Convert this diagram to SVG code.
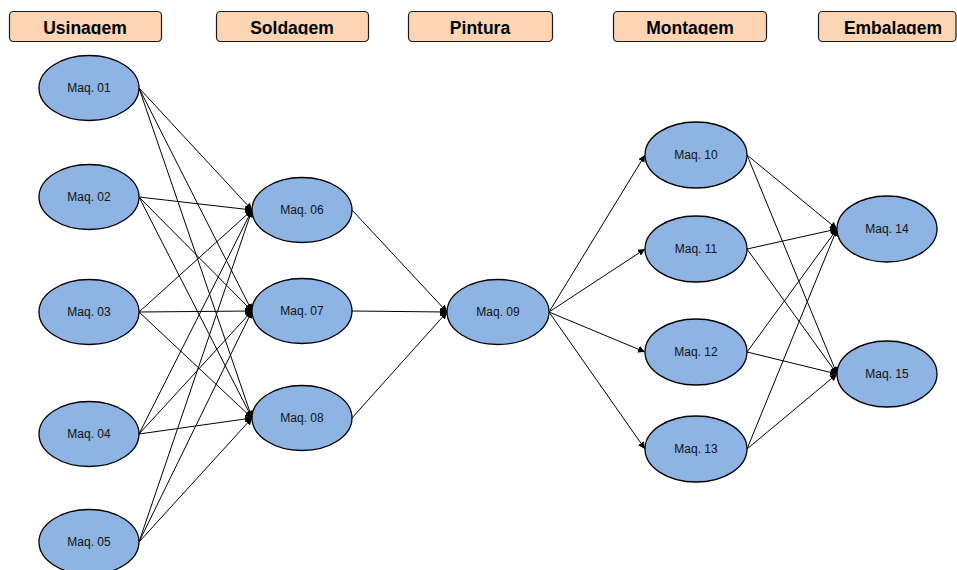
<svg xmlns="http://www.w3.org/2000/svg" width="957" height="570" viewBox="0 0 957 570">
  <style>
    .stage rect { fill: #FCD5B5; stroke: #1a1a1a; stroke-width: 1.2; }
    .stage text { font-family: "Liberation Sans", Arial, sans-serif; font-weight: bold; font-size: 17.5px; fill: #000; text-anchor: middle; }
    .node ellipse { fill: #8EB4E3; stroke: #000; stroke-width: 1.3; }
    .node text { font-family: "Liberation Sans", Arial, sans-serif; font-size: 12px; fill: #111; text-anchor: middle; }
    #connectors line { stroke: #000; stroke-width: 1; marker-end: url(#arrow); }
  </style>
  <defs>
    <marker id="arrow" markerUnits="userSpaceOnUse" markerWidth="8" markerHeight="7" refX="7" refY="3.5" orient="auto">
      <path d="M0,0 L7,3.5 L0,7 z" fill="#000"/>
    </marker>
    <clipPath id="hdrClip"><rect x="0" y="11" width="957" height="23.5"/></clipPath>
  </defs>
  <rect width="957" height="570" fill="#fff"/>

  <!-- stage headers -->
  <g id="stage-usinagem" class="stage">
    <rect x="9.5" y="11.5" width="152" height="30" rx="4"/>
    <text x="85" y="34" clip-path="url(#hdrClip)">Usinagem</text>
  </g>
  <g id="stage-soldagem" class="stage">
    <rect x="216.5" y="11.5" width="152" height="30" rx="4"/>
    <text x="292" y="34" clip-path="url(#hdrClip)">Soldagem</text>
  </g>
  <g id="stage-pintura" class="stage">
    <rect x="408.5" y="11.5" width="144" height="30" rx="4"/>
    <text x="480" y="34" clip-path="url(#hdrClip)">Pintura</text>
  </g>
  <g id="stage-montagem" class="stage">
    <rect x="613.5" y="11.5" width="153" height="30" rx="4"/>
    <text x="690" y="34" clip-path="url(#hdrClip)">Montagem</text>
  </g>
  <g id="stage-embalagem" class="stage">
    <rect x="818.5" y="11.5" width="137.5" height="30" rx="4"/>
    <text x="893" y="34" clip-path="url(#hdrClip)">Embalagem</text>
  </g>

  <!-- connectors: right edge of source to left edge of target -->
  <g id="connectors">
    <line x1="139" y1="88" x2="252" y2="210"/>
    <line x1="139" y1="88" x2="252" y2="311"/>
    <line x1="139" y1="88" x2="252" y2="418"/>
    <line x1="139" y1="197" x2="252" y2="210"/>
    <line x1="139" y1="197" x2="252" y2="311"/>
    <line x1="139" y1="197" x2="252" y2="418"/>
    <line x1="139" y1="312" x2="252" y2="210"/>
    <line x1="139" y1="312" x2="252" y2="311"/>
    <line x1="139" y1="312" x2="252" y2="418"/>
    <line x1="139" y1="434" x2="252" y2="210"/>
    <line x1="139" y1="434" x2="252" y2="311"/>
    <line x1="139" y1="434" x2="252" y2="418"/>
    <line x1="139" y1="542" x2="252" y2="210"/>
    <line x1="139" y1="542" x2="252" y2="311"/>
    <line x1="139" y1="542" x2="252" y2="418"/>

    <line x1="352" y1="210" x2="447" y2="312"/>
    <line x1="352" y1="311" x2="447" y2="312"/>
    <line x1="352" y1="418" x2="447" y2="312"/>

    <line x1="549" y1="312" x2="645" y2="155"/>
    <line x1="549" y1="312" x2="645" y2="249"/>
    <line x1="549" y1="312" x2="645" y2="352"/>
    <line x1="549" y1="312" x2="645" y2="449"/>

    <line x1="747" y1="155" x2="837" y2="229"/>
    <line x1="747" y1="155" x2="837" y2="374"/>
    <line x1="747" y1="249" x2="837" y2="229"/>
    <line x1="747" y1="249" x2="837" y2="374"/>
    <line x1="747" y1="352" x2="837" y2="229"/>
    <line x1="747" y1="352" x2="837" y2="374"/>
    <line x1="747" y1="449" x2="837" y2="229"/>
    <line x1="747" y1="449" x2="837" y2="374"/>
  </g>

  <!-- machines -->
  <g id="maq01" class="node"><ellipse cx="89" cy="88" rx="50" ry="32.5"/><text x="89" y="92">Maq. 01</text></g>
  <g id="maq02" class="node"><ellipse cx="89" cy="197" rx="50" ry="32.5"/><text x="89" y="201">Maq. 02</text></g>
  <g id="maq03" class="node"><ellipse cx="89" cy="312" rx="50" ry="32.5"/><text x="89" y="316">Maq. 03</text></g>
  <g id="maq04" class="node"><ellipse cx="89" cy="434" rx="50" ry="32.5"/><text x="89" y="438">Maq. 04</text></g>
  <g id="maq05" class="node"><ellipse cx="89" cy="542" rx="50" ry="32.5"/><text x="89" y="546">Maq. 05</text></g>

  <g id="maq06" class="node"><ellipse cx="302" cy="210" rx="50" ry="32.5"/><text x="302" y="214">Maq. 06</text></g>
  <g id="maq07" class="node"><ellipse cx="302" cy="311" rx="50" ry="32.5"/><text x="302" y="315">Maq. 07</text></g>
  <g id="maq08" class="node"><ellipse cx="302" cy="418" rx="50" ry="32.5"/><text x="302" y="422">Maq. 08</text></g>

  <g id="maq09" class="node"><ellipse cx="498" cy="312" rx="51" ry="32.5"/><text x="498" y="316">Maq. 09</text></g>

  <g id="maq10" class="node"><ellipse cx="696" cy="155" rx="51" ry="33"/><text x="696" y="159">Maq. 10</text></g>
  <g id="maq11" class="node"><ellipse cx="696" cy="249" rx="51" ry="33"/><text x="696" y="253">Maq. 11</text></g>
  <g id="maq12" class="node"><ellipse cx="696" cy="352" rx="51" ry="33"/><text x="696" y="356">Maq. 12</text></g>
  <g id="maq13" class="node"><ellipse cx="696" cy="449" rx="51" ry="33"/><text x="696" y="453">Maq. 13</text></g>

  <g id="maq14" class="node"><ellipse cx="887" cy="229" rx="50" ry="33"/><text x="887" y="233">Maq. 14</text></g>
  <g id="maq15" class="node"><ellipse cx="887" cy="374" rx="50" ry="33"/><text x="887" y="378">Maq. 15</text></g>
</svg>
